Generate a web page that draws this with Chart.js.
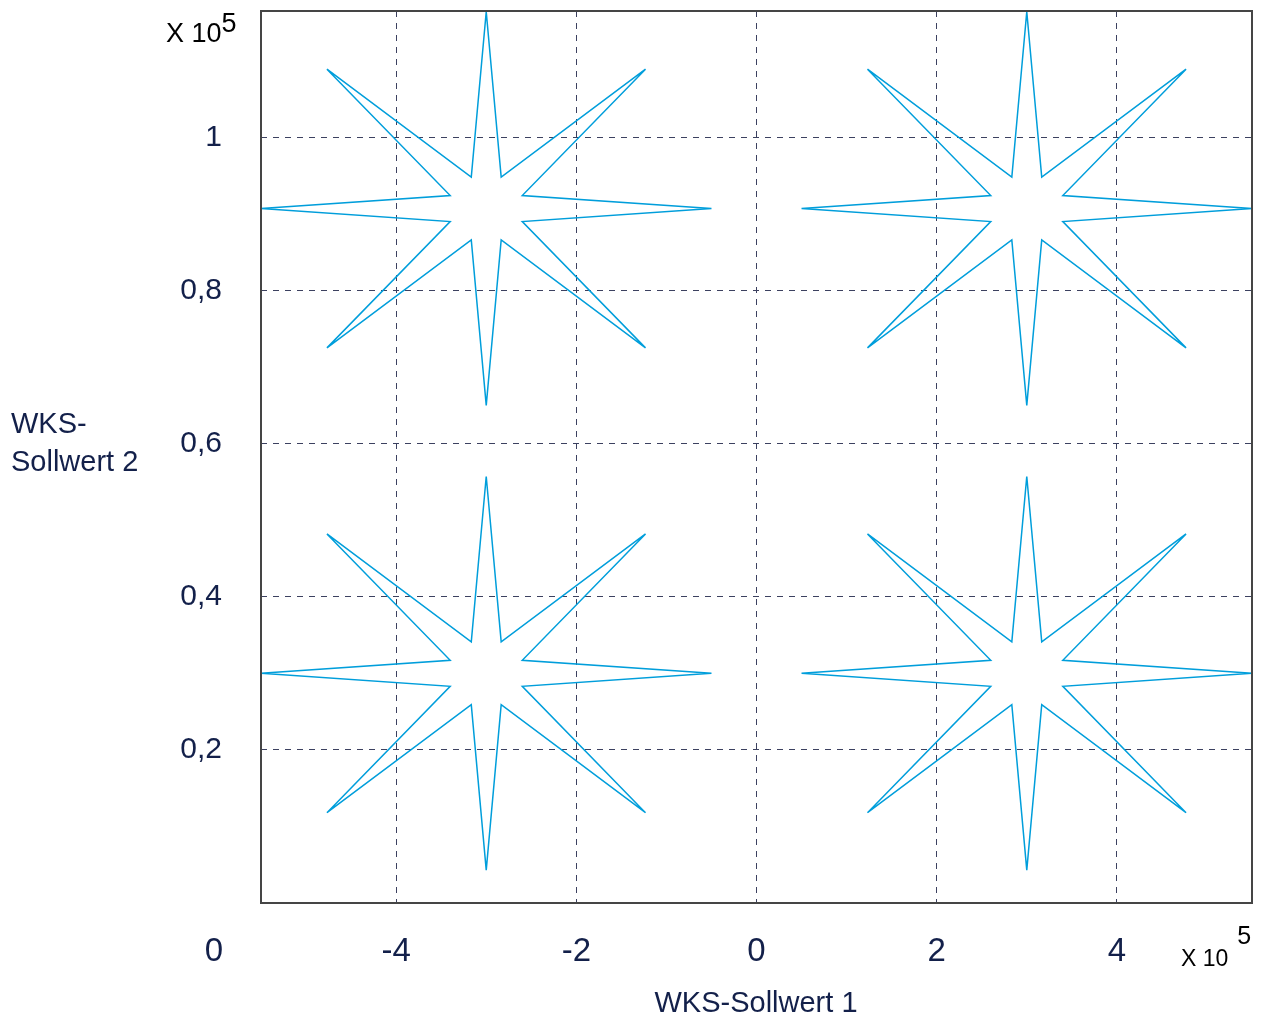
<!DOCTYPE html>
<html>
<head>
<meta charset="utf-8">
<script src="https://cdn.jsdelivr.net/npm/chart.js@4.4.0/dist/chart.umd.min.js"></script>
<style>
  html, body { margin: 0; padding: 0; background: #fff; }
</style>
</head>
<body>
<canvas id="chart" width="1265" height="1027"></canvas>
<script>
// star outlines (x in units of 10^5)
const starLeftX  = [-3, -2.834, -1.232, -2.6, -0.5, -2.6, -1.232, -2.834, -3, -3.166, -4.768, -3.4, -5.5, -3.4, -4.768, -3.166, -3];
const starRightX = [3, 3.166, 4.768, 3.4, 5.5, 3.4, 4.768, 3.166, 3, 2.834, 1.232, 2.6, 0.5, 2.6, 1.232, 2.834, 3];
const starUpperY = [1.164, 0.948, 1.089, 0.924, 0.907, 0.890, 0.725, 0.866, 0.650, 0.866, 0.725, 0.890, 0.907, 0.924, 1.089, 0.948, 1.164];
const starLowerY = [0.557, 0.341, 0.482, 0.317, 0.300, 0.283, 0.118, 0.259, 0.043, 0.259, 0.118, 0.283, 0.300, 0.317, 0.482, 0.341, 0.557];

const xTicks = [-4, -2, 0, 2, 4];
const xTickLabels = ['-4', '-2', '0', '2', '4'];
const yTicks = [0.2, 0.4, 0.6, 0.8, 1];
const yTickLabels = ['0,2', '0,4', '0,6', '0,8', '1'];

const ink = '#13204a';
const starColor = 'rgb(0,158,219)';
const gridColor = '#3c4160';
const fontFamily = 'Arial, "Liberation Sans", sans-serif';

function zip(xs, ys) {
    return xs.map((x, i) => ({x: x, y: ys[i]}));
}

function star(xs, ys) {
    return {
        data: zip(xs, ys),
        showLine: true,
        borderColor: starColor,
        borderWidth: 1.5,
        pointRadius: 0,
        tension: 0,
        fill: false
    };
}

const decorations = {
    id: 'decorations',
    afterDraw(chart) {
        const {ctx, chartArea: a} = chart;
        ctx.save();
        // box round the plot
        ctx.strokeStyle = '#454545';
        ctx.lineWidth = 2;
        ctx.strokeRect(a.left, a.top, a.right - a.left, a.bottom - a.top);

        ctx.fillStyle = ink;
        ctx.textBaseline = 'alphabetic';

        // y = 0 label sits in the x label row
        ctx.font = '33px ' + fontFamily;
        ctx.textAlign = 'right';
        ctx.fillText('0', a.left - 38, 961);

        // axis titles
        ctx.font = '29px ' + fontFamily;
        ctx.textAlign = 'left';
        ctx.fillText('WKS-', 11, 433);
        ctx.fillText('Sollwert 2', 11, 471);
        ctx.textAlign = 'center';
        ctx.fillText('WKS-Sollwert 1', 756, 1012);

        // scale factors
        ctx.textAlign = 'left';
        ctx.fillStyle = '#000';
        ctx.font = '27px ' + fontFamily;
        ctx.fillText('X 10', 166, 42);
        let w = ctx.measureText('X 10').width;
        ctx.fillText('5', 166 + w, 32);

        ctx.font = '23px ' + fontFamily;
        ctx.fillText('X 10', 1181, 966);
        w = ctx.measureText('X 10').width;
        ctx.font = '25px ' + fontFamily;
        ctx.fillText('5', 1181 + w + 9, 944);
        ctx.restore();
    }
};

new Chart(document.getElementById('chart'), {
    type: 'scatter',
    data: {
        datasets: [
            star(starLeftX, starUpperY),
            star(starRightX, starUpperY),
            star(starLeftX, starLowerY),
            star(starRightX, starLowerY)
        ]
    },
    options: {
        responsive: false,
        animation: false,
        layout: {padding: {top: 11, right: 13, left: 0, bottom: 0}},
        plugins: {legend: {display: false}, tooltip: {enabled: false}},
        scales: {
            x: {
                type: 'linear',
                min: -5.5,
                max: 5.5,
                afterBuildTicks: (scale) => { scale.ticks = xTicks.map(v => ({value: v})); },
                afterFit: (scale) => {
                    scale.height = 124;
                    scale.paddingLeft = 0;
                    scale.paddingRight = 0;
                },
                ticks: {
                    padding: 29,
                    color: ink,
                    font: {family: fontFamily, size: 33},
                    maxRotation: 0,
                    callback: (v) => xTickLabels[xTicks.indexOf(v)]
                },
                grid: {color: gridColor, lineWidth: 1, drawTicks: false},
                border: {display: false, dash: [6, 6]}
            },
            y: {
                type: 'linear',
                min: 0,
                max: 1.165,
                afterBuildTicks: (scale) => { scale.ticks = yTicks.map(v => ({value: v})); },
                afterFit: (scale) => {
                    scale.width = 261;
                    scale.paddingTop = 0;
                    scale.paddingBottom = 0;
                },
                ticks: {
                    padding: 39,
                    color: ink,
                    font: {family: fontFamily, size: 30},
                    callback: (v) => yTickLabels[yTicks.indexOf(v)]
                },
                grid: {color: gridColor, lineWidth: 1, drawTicks: false},
                border: {display: false, dash: [6, 6]}
            }
        }
    },
    plugins: [decorations]
});
</script>
</body>
</html>
